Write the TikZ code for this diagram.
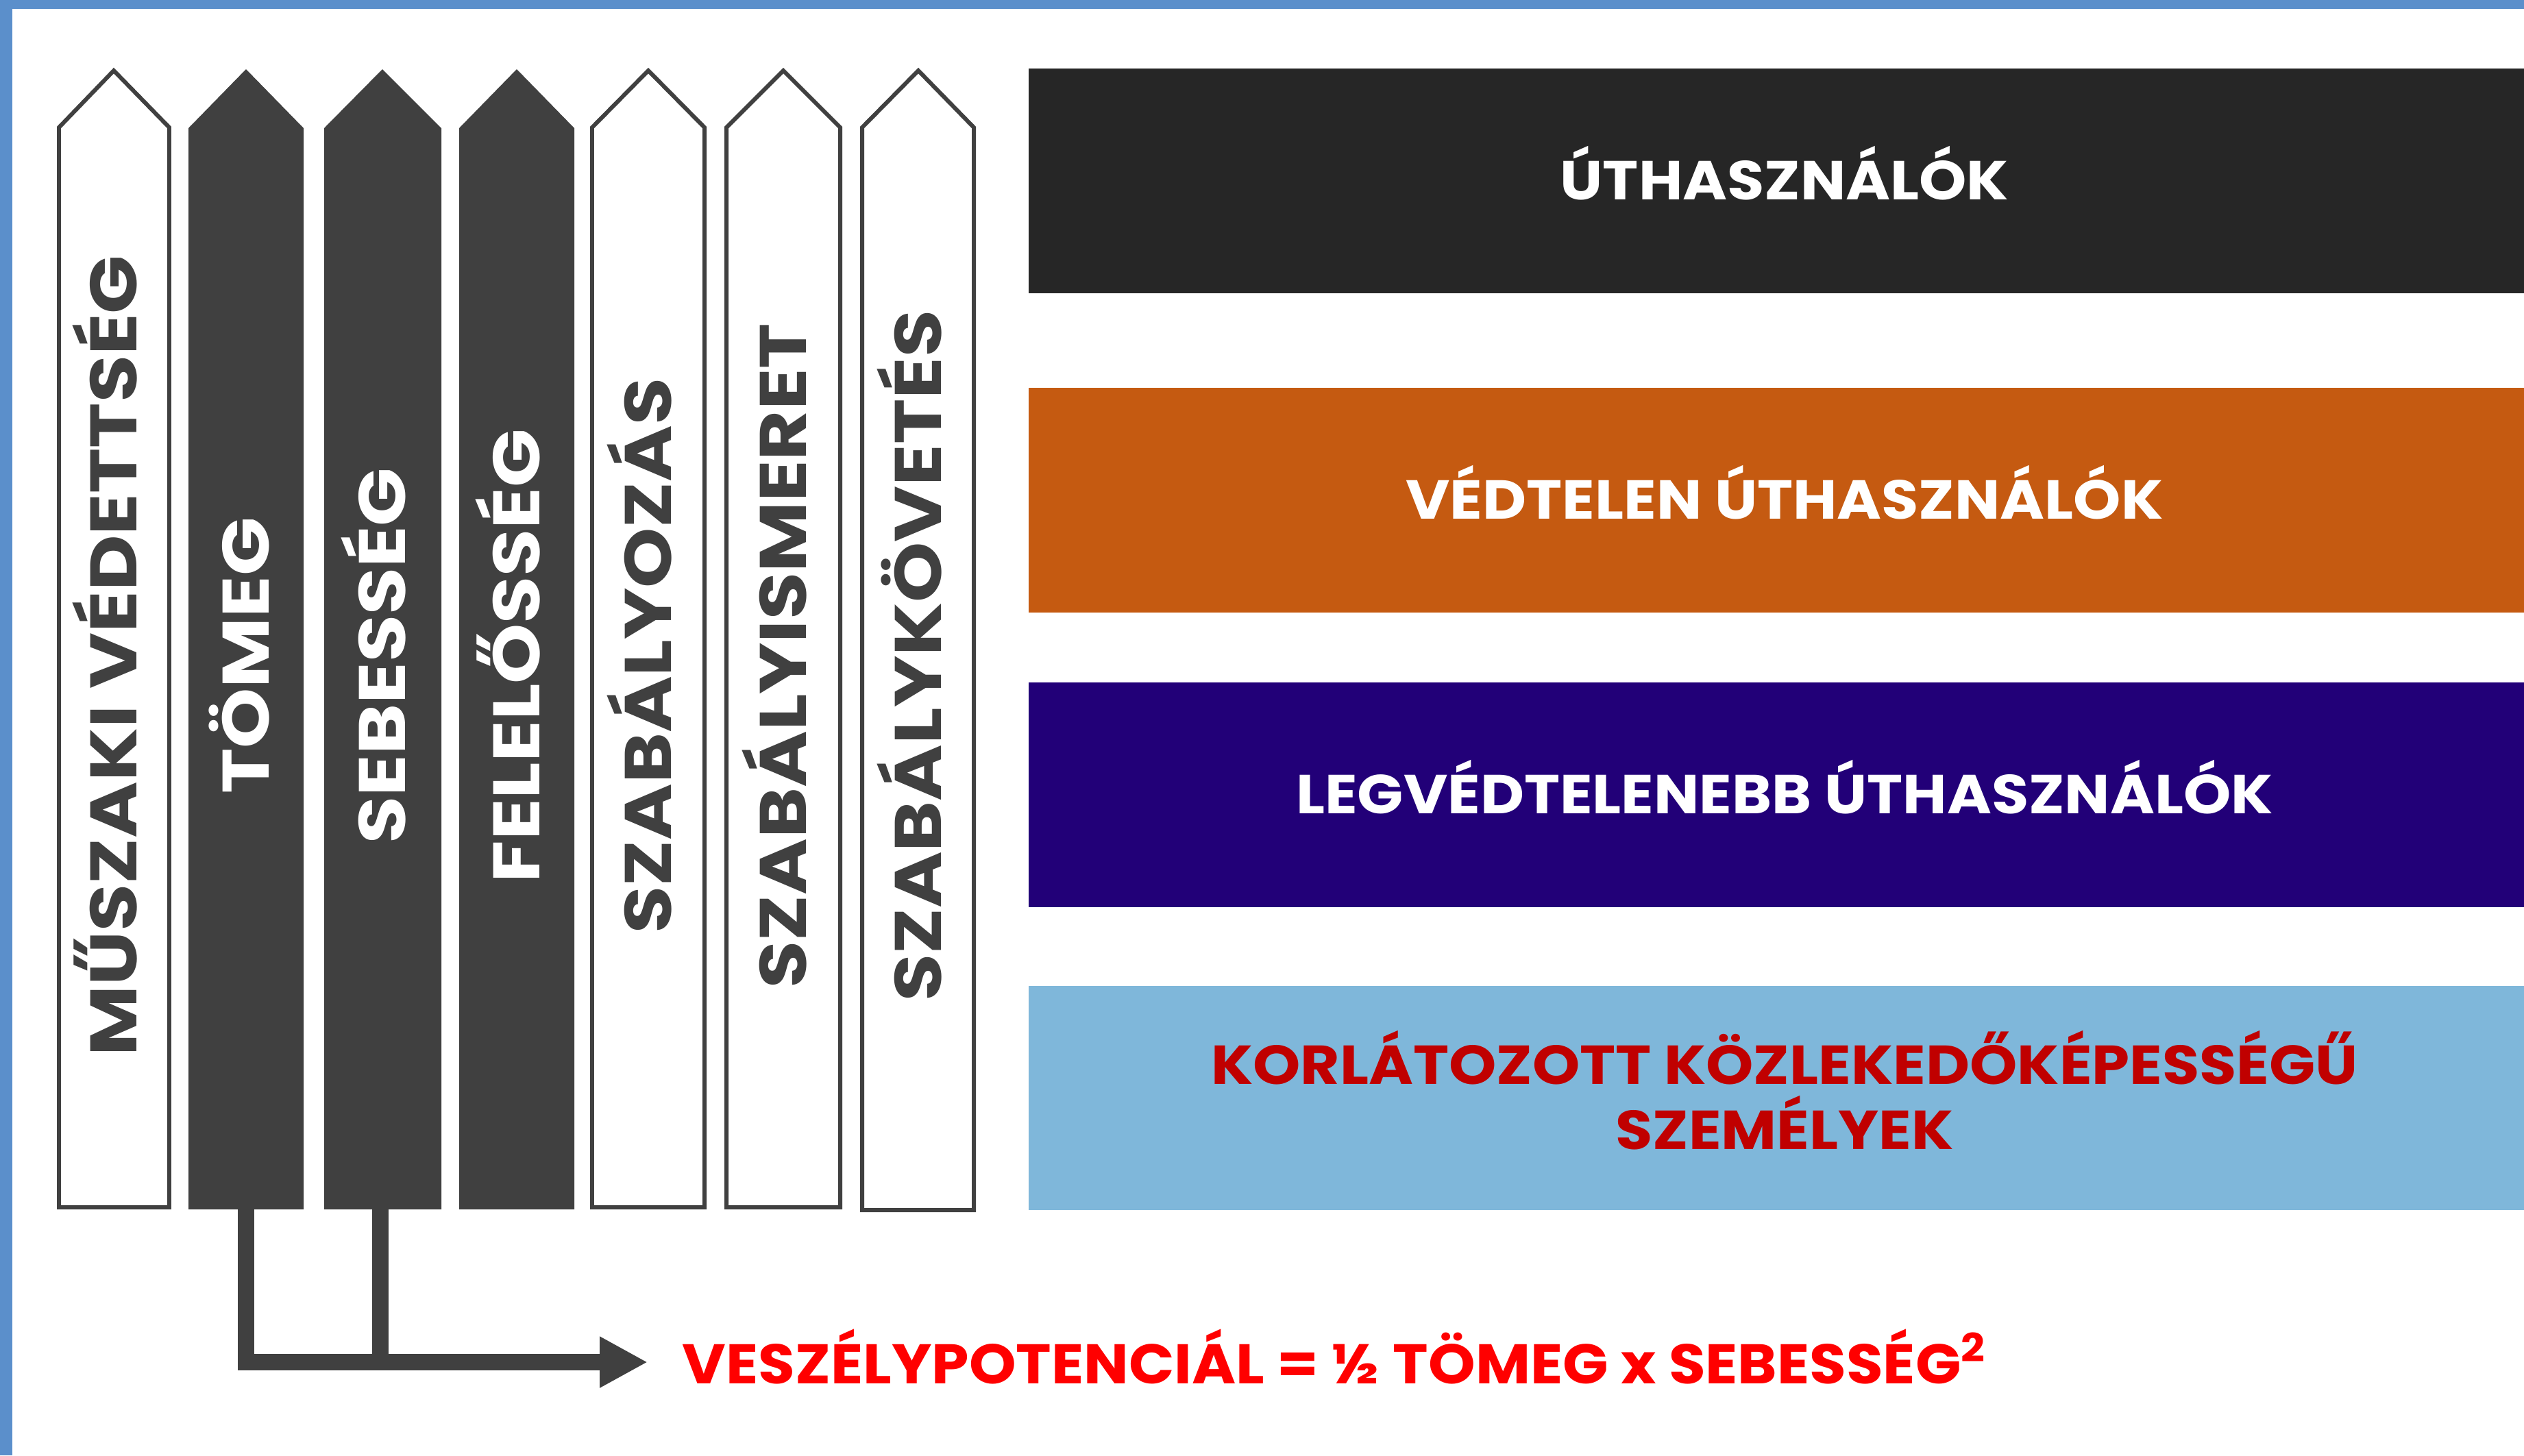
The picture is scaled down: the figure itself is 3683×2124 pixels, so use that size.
\documentclass[tikz,border=0pt]{standalone}
\usepackage{fontspec}
\setmainfont{Poppins}
\newfontfamily\postfont{Poppins}[FakeStretch=1.17]
\newfontfamily\barfont{Poppins}[FakeStretch=1.10]
\newfontfamily\formulafont{Poppins}[FakeStretch=1.07]
\usetikzlibrary{arrows.meta}
\definecolor{frameblue}{HTML}{5B8FCB}
\definecolor{postgrey}{HTML}{404040}
\definecolor{userblack}{HTML}{262626}
\definecolor{userorange}{HTML}{C55A11}
\definecolor{userpurple}{HTML}{220078}
\definecolor{userblue}{HTML}{7FB7DA}
\definecolor{labelred}{HTML}{C00000}

\begin{document}
\begin{tikzpicture}[x=0.1mm,y=-0.1mm,
  whitepost/.style={draw=postgrey,line width=1.7pt,fill=white,line join=miter},
  darkpost/.style={fill=postgrey},
  postlabel/.style={rotate=90,inner sep=0,text height=19pt,text depth=0pt,
    font=\postfont\bfseries\fontsize{27.3}{30}\selectfont},
  bar/.style={minimum width=22.06cm,minimum height=3.28cm,inner sep=0,text=white,align=center,
    font=\barfont\bfseries\fontsize{22.8}{27}\selectfont},
  oneline/.style={text height=15.9pt,text depth=0pt},
  link/.style={draw=postgrey,line width=6.8pt,line join=miter}]
% Page and the blue frame on top and left
\fill[white] (0,0) rectangle (3683,2124);
\useasboundingbox (0,0) rectangle (3683,2124);
\fill[frameblue] (0,0) rectangle (3683,13);
\fill[frameblue] (0,0) rectangle (18,2124);
% Posts, tip at the top, shoulder at y=186
\draw[whitepost] (86,1762) -- (86,186) -- (166,103) -- (247,186) -- (247,1762) -- cycle;
\fill[darkpost] (275,1765) -- (275,187) -- (359,101) -- (443,187) -- (443,1765) -- cycle;
\fill[darkpost] (473,1765) -- (473,187) -- (558,101) -- (644,187) -- (644,1765) -- cycle;
\fill[darkpost] (670,1765) -- (670,187) -- (754,101) -- (838,187) -- (838,1765) -- cycle;
\draw[whitepost] (864,1762) -- (864,186) -- (946,103) -- (1028,186) -- (1028,1762) -- cycle;
\draw[whitepost] (1060,1762) -- (1060,186) -- (1143,103) -- (1226,186) -- (1226,1762) -- cycle;
\draw[whitepost] (1258,1766) -- (1258,186) -- (1340,103) -- (1421,186) -- (1421,1766) -- cycle;
% Labels on the posts, read from bottom to top
\node[postlabel,text=postgrey] (protection) at (166,957) {MŰSZAKI VÉDETTSÉG};
\node[postlabel,text=white] (mass) at (359,957) {TÖMEG};
\node[postlabel,text=white] (speed) at (558,957) {SEBESSÉG};
\node[postlabel,text=white] (duty) at (754,957) {FELELŐSSÉG};
\node[postlabel,text=postgrey] (rules) at (946,957) {SZABÁLYOZÁS};
\node[postlabel,text=postgrey] (knowledge) at (1143,957) {SZABÁLYISMERET};
\node[postlabel,text=postgrey] (compliance) at (1340,957) {SZABÁLYKÖVETÉS};
% Road user bands on the right
\node[bar,oneline,fill=userblack] (users) at (2604,264) {ÚTHASZNÁLÓK};
\node[bar,oneline,fill=userorange] (vulnerable) at (2604,729.5) {VÉDTELEN ÚTHASZNÁLÓK};
\node[bar,oneline,fill=userpurple] (mostvulnerable) at (2604,1160) {LEGVÉDTELENEBB ÚTHASZNÁLÓK};
\node[bar,fill=userblue,text=labelred,minimum height=3.27cm] (limited) at (2604,1602.5)
  {\raisebox{0pt}[15.6pt][0pt]{KORLÁTOZOTT KÖZLEKEDŐKÉPESSÉGŰ}\\SZEMÉLYEK};
% Mass and speed lead to the danger formula
\coordinate (massfoot) at (359,1765);
\coordinate (speedfoot) at (555,1765);
\coordinate (tip) at (945,1988);
\draw[link,-{Triangle[length=7mm,width=7mm]}] (massfoot) |- (tip);
\draw[link] (speedfoot) -- (speedfoot |- tip);
\node[anchor=base west,inner sep=0,text=red,font=\formulafont\bfseries\fontsize{23.2}{27}\selectfont]
  (danger) at (995,2019) {VESZÉLYPOTENCIÁL = ½ TÖMEG x SEBESSÉG\textsuperscript{2}};
\end{tikzpicture}
\end{document}
